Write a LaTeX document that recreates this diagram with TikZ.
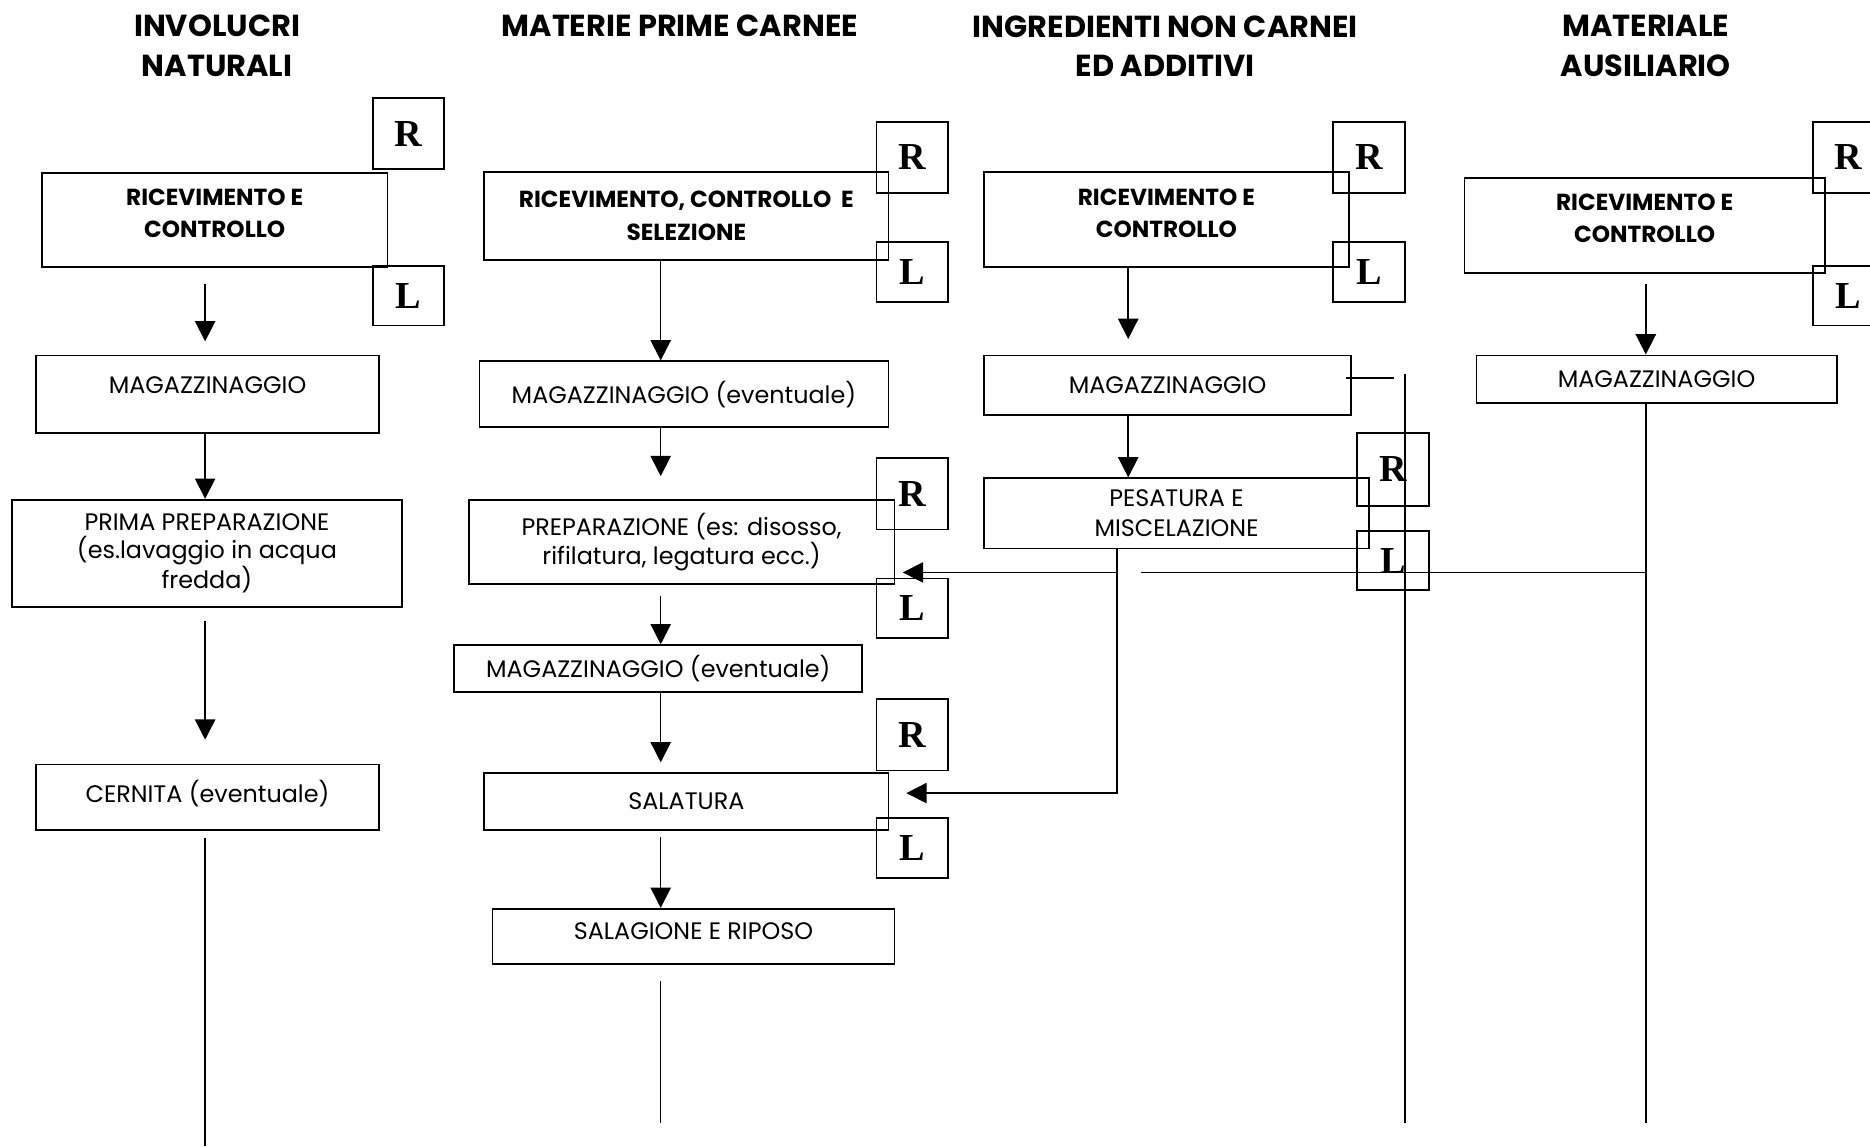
\documentclass[tikz,border=0pt]{standalone}
\usepackage{fontspec}
\setmainfont{Poppins}
\newfontfamily\rlfont{Liberation Serif}
\usepackage{tikz}
\usetikzlibrary{arrows.meta}

\begin{document}
\begin{tikzpicture}[x=1pt,y=-1pt,
  stagebox/.style={draw,line width=1.5pt,align=center,inner sep=0pt,font=\fontsize{20}{24}\selectfont},
  boldbox/.style={stagebox,font=\fontsize{19.5}{27}\selectfont\bfseries},
  tagbox/.style={draw,line width=1.5pt,inner sep=0pt,minimum width=60pt,minimum height=60pt,font=\rlfont\bfseries\fontsize{32}{32}\selectfont},
  colhead/.style={align=center,font=\fontsize{25.5}{33}\selectfont\bfseries},
  flow/.style={line width=1.3pt,-{Triangle[length=17pt,width=17pt]}},
  flowline/.style={line width=1.3pt}]
\useasboundingbox (0,0) rectangle (1568,961);
\clip (0,0) rectangle (1568,961);

\node[colhead] (h1) at (182,38.5) {INVOLUCRI\\NATURALI};
\node[colhead] (h2) at (570,22) {MATERIE PRIME CARNEE};
\node[colhead] (h3) at (977,38.5) {INGREDIENTI NON CARNEI\\ED ADDITIVI};
\node[colhead] (h4) at (1380,38.5) {MATERIALE\\AUSILIARIO};

\coordinate (ax1) at (172,0);
\coordinate (ax2) at (554,0);
\coordinate (ax3) at (946,0);
\coordinate (ax3b) at (936.5,0);
\coordinate (ax4) at (1380,0);
\coordinate (ax5) at (1178,0);

\node[boldbox,minimum width=290pt,minimum height=79pt,text depth=12pt] (rc1) at (180,184.5) {RICEVIMENTO E\\CONTROLLO};
\node[stagebox,minimum width=288pt,minimum height=65pt,text depth=15pt] (mag1) at (174,330.5) {MAGAZZINAGGIO};
\node[stagebox,minimum width=327pt,minimum height=90pt] (prep1) at (173.5,464) {PRIMA PREPARAZIONE\\(es.lavaggio in acqua\\fredda)};
\node[stagebox,minimum width=288pt,minimum height=55pt,text depth=10pt] (cernita) at (174,668.5) {CERNITA (eventuale)};

\node[boldbox,minimum width=339pt,minimum height=74pt] (rc2) at (575.5,181) {RICEVIMENTO, CONTROLLO~ E\\SELEZIONE};
\node[stagebox,minimum width=343pt,minimum height=55pt] (mag2) at (573.5,330.5) {MAGAZZINAGGIO (eventuale)};
\node[stagebox,minimum width=357pt,minimum height=71pt] (prep2) at (571.5,454.5) {PREPARAZIONE (es: disosso,\\rifilatura, legatura ecc.)};
\node[stagebox,minimum width=342pt,minimum height=39pt] (mag3) at (552,560.5) {MAGAZZINAGGIO (eventuale)};
\node[stagebox,minimum width=339pt,minimum height=48pt] (salatura) at (575.5,672) {SALATURA};
\node[stagebox,minimum width=337pt,minimum height=46pt,text depth=8pt] (salagione) at (581.5,785) {SALAGIONE E RIPOSO};

\node[boldbox,minimum width=306pt,minimum height=80pt,text depth=10pt] (rc3) at (978,184) {RICEVIMENTO E\\CONTROLLO};
\node[stagebox,minimum width=308pt,minimum height=50pt] (mag4) at (979,323) {MAGAZZINAGGIO};
\node[stagebox,minimum width=323pt,minimum height=59pt,font=\fontsize{20}{25}\selectfont] (pesatura) at (986.5,430.5) {PESATURA E\\MISCELAZIONE};

\node[boldbox,minimum width=302pt,minimum height=80pt,text depth=12pt] (rc4) at (1379,189) {RICEVIMENTO E\\CONTROLLO};
\node[stagebox,minimum width=302pt,minimum height=40pt] (mag5) at (1389,318) {MAGAZZINAGGIO};

\node[tagbox] (r1) at (342.5,112) {R};
\node[tagbox,minimum height=50pt] (l1) at (342.5,248) {L};
\node[tagbox] (r2) at (765,132) {R};
\node[tagbox,minimum height=50pt] (l2) at (765,228) {L};
\node[tagbox] (r3) at (765,414) {R};
\node[tagbox,minimum height=50pt] (l3) at (765,510) {L};
\node[tagbox] (r4) at (765,616) {R};
\node[tagbox,minimum height=50pt] (l4) at (765,711) {L};
\node[tagbox] (r5) at (1148,132) {R};
\node[tagbox,minimum height=50pt] (l5) at (1148,228) {L};
\node[tagbox,minimum height=61pt] (r6) at (1168,393.5) {R};
\node[tagbox,minimum height=50pt] (l6) at (1168,470) {L};
\node[tagbox] (r7) at (1550,132) {R};
\node[tagbox,minimum height=50pt] (l7) at (1550,248) {L};

\coordinate (inprep) at (757,480);
\coordinate (insal) at (760,665);
\coordinate (hop) at (957,480);

\draw[flow,shorten <=13pt,shorten >=11pt] (rc1.south -| ax1) -- (mag1.north -| ax1);
\draw[flow] (mag1.south -| ax1) -- (prep1.north -| ax1);
\draw[flow,shorten <=11pt,shorten >=20pt] (prep1.south -| ax1) -- (cernita.north -| ax1);
\draw[flowline,shorten <=6pt] (cernita.south -| ax1) -- (ax1 |- 0,961);

\draw[flow] (rc2.south -| ax2) -- (mag2.north -| ax2);
\draw[flow,shorten >=19pt] (mag2.south -| ax2) -- (prep2.north -| ax2);
\draw[flow,shorten <=9pt] (prep2.south -| ax2) -- (mag3.north -| ax2);
\draw[flow,shorten >=8pt] (mag3.south -| ax2) -- (salatura.north -| ax2);
\draw[flow,shorten <=5pt] (salatura.south -| ax2) -- (salagione.north -| ax2);
\draw[flowline,shorten <=14pt] (salagione.south -| ax2) -- (ax2 |- 0,942);

\draw[flow,shorten >=13pt] (rc3.south -| ax3) -- (mag4.north -| ax3);
\draw[flow] (mag4.south -| ax3) -- (pesatura.north -| ax3);
\draw[flow] (pesatura.south -| ax3b) |- (insal);
\draw[flow] (ax3b |- inprep) -- (inprep);
\draw[flowline] ([shift={(-5,-6)}]mag4.east) -- ++(40,0);
\draw[flowline] (ax5 |- 0,314) -- (ax5 |- 0,942);

\draw[flow,shorten <=8pt] (rc4.south -| ax4) -- (mag5.north -| ax4);
\draw[flowline] (mag5.south -| ax4) -- (ax4 |- 0,942);
\draw[flowline] (ax4 |- inprep) -- (hop);
\end{tikzpicture}
\end{document}
